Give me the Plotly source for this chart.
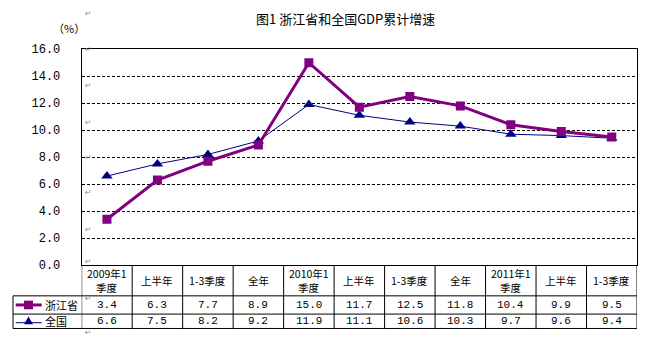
import plotly.graph_objects as go

W, H = 653, 348

title_text = "图1 浙江省和全国GDP累计增速"
unit_text = "（%）"
period_labels = ["2009年1季度", "上半年", "1-3季度", "全年", "2010年1季度", "上半年",
                 "1-3季度", "全年", "2011年1季度", "上半年", "1-3季度"]
series_names = ["浙江省", "全国"]
zhejiang = [3.4, 6.3, 7.7, 8.9, 15.0, 11.7, 12.5, 11.8, 10.4, 9.9, 9.5]
national = [6.6, 7.5, 8.2, 9.2, 11.9, 11.1, 10.6, 10.3, 9.7, 9.6, 9.4]
y_ticks = [0, 2, 4, 6, 8, 10, 12, 14, 16]

PURPLE = "#800080"
NAVY = "#000080"
CJK = "Noto Sans CJK SC"
MONO = "Liberation Mono"


def px(x):
    return x / W


def py(y):
    return 1 - y / H


# layout geometry (pixels)
L, R, T, B = 81.7, 637.0, 45.0, 270.0
ROW1, ROW2, ROW3 = 302.0, 321.0, 336.0
TL = 13.0

xs = list(range(len(period_labels)))

fig = go.Figure()
fig.add_trace(go.Scatter(x=xs, y=national, name=series_names[1], mode="lines+markers",
                         line=dict(color=NAVY, width=1),
                         marker=dict(symbol="triangle-up", size=10, color=NAVY),
                         showlegend=False))
fig.add_trace(go.Scatter(x=xs, y=zhejiang, name=series_names[0], mode="lines+markers",
                         line=dict(color=PURPLE, width=3),
                         marker=dict(symbol="square", size=9, color=PURPLE),
                         showlegend=False))

shapes = []
annotations = []


def ann(x, y, text, font, xref="paper", xanchor="center"):
    annotations.append(dict(x=x, y=y, xref=xref, yref="paper", text=text, showarrow=False,
                            xanchor=xanchor, yanchor="middle", font=font))


# table horizontal lines
for yy in [ROW1, ROW2, ROW3]:
    shapes.append(dict(type="line", xref="paper", yref="paper",
                       x0=px(TL), x1=px(R), y0=py(yy), y1=py(yy),
                       line=dict(color="black", width=1)))
# table vertical lines
shapes.append(dict(type="line", xref="paper", yref="paper", x0=px(TL), x1=px(TL),
                   y0=py(ROW1), y1=py(ROW3), line=dict(color="black", width=1)))
for k in range(len(period_labels) + 1):
    shapes.append(dict(type="line", xref="x", yref="paper", x0=k - 0.5, x1=k - 0.5,
                       y0=py(B), y1=py(ROW3), line=dict(color="black", width=1)))

# header labels and values
hfont = dict(family=CJK, size=10.5, color="black")
vfont = dict(family=MONO, size=11, color="black")
for i, lab in enumerate(period_labels):
    if "年1" in lab:
        top, bottom = lab.split("年1")
        ann(i, py(278.5), top + "年1", hfont, xref="x")
        ann(i, py(293.5), bottom, hfont, xref="x")
    else:
        ann(i, py((B + ROW1) / 2), lab, hfont, xref="x")
    ann(i, py((ROW1 + ROW2) / 2), f"{zhejiang[i]:.1f}", vfont, xref="x")
    ann(i, py((ROW2 + ROW3) / 2), f"{national[i]:.1f}", vfont, xref="x")

# legend keys in the table
ky1 = (ROW1 + ROW2) / 2
ky2 = (ROW2 + ROW3) / 2
kx0, kx1, kc = 15.7, 41.7, 28.5
shapes.append(dict(type="line", xref="paper", yref="paper", x0=px(kx0), x1=px(kx1),
                   y0=py(ky1), y1=py(ky1), line=dict(color=PURPLE, width=3)))
shapes.append(dict(type="rect", xref="paper", yref="paper", x0=px(kc - 4.5), x1=px(kc + 4.5),
                   y0=py(ky1 - 4.5), y1=py(ky1 + 4.5), fillcolor=PURPLE, line=dict(width=0)))
shapes.append(dict(type="line", xref="paper", yref="paper", x0=px(kx0), x1=px(kx1),
                   y0=py(ky2 + 1.5), y1=py(ky2 + 1.5), line=dict(color=NAVY, width=1)))
tri = "M {:.5f},{:.5f} L {:.5f},{:.5f} L {:.5f},{:.5f} Z".format(
    px(kc - 4.5), py(ky2 + 3), px(kc + 4.5), py(ky2 + 3), px(kc), py(ky2 - 5))
shapes.append(dict(type="path", xref="paper", yref="paper", path=tri,
                   fillcolor=NAVY, line=dict(width=0)))
for name, yy in zip(series_names, [ky1, ky2]):
    ann(px(43), py(yy), name, dict(family=CJK, size=11, color="black"), xanchor="left")

# title and unit
ann(px(345), py(13), title_text, dict(family=CJK, size=13, color="black"))
ann(px(69), py(23), unit_text, dict(family=CJK, size=11, color="black"))

# paragraph marks from the source document
for yy in [8, 45, 83, 121, 158, 194, 233, 266, 305, 340]:
    ann(px(83), py(yy), "↵", dict(family="DejaVu Sans", size=8, color="#909090"),
        xanchor="left")

fig.update_layout(
    width=W, height=H,
    margin=dict(l=0, r=0, t=0, b=0),
    paper_bgcolor="white", plot_bgcolor="white",
    shapes=shapes, annotations=annotations,
    xaxis=dict(domain=[px(L), px(R)], range=[-0.5, len(period_labels) - 0.5],
               showticklabels=False, showgrid=False, zeroline=False,
               showline=True, mirror=True, linecolor="black", linewidth=1, ticks=""),
    yaxis=dict(domain=[py(B), py(T)], range=[0, 16], tickvals=y_ticks, tickformat=".1f",
               showgrid=True, gridcolor="black", gridwidth=1, griddash="3px,2px",
               zeroline=False, showline=True, mirror=True, linecolor="black", linewidth=1,
               ticks="", ticklabelstandoff=18,
               tickfont=dict(family=MONO, size=12, color="black")),
)

fig.write_html("out.html")
